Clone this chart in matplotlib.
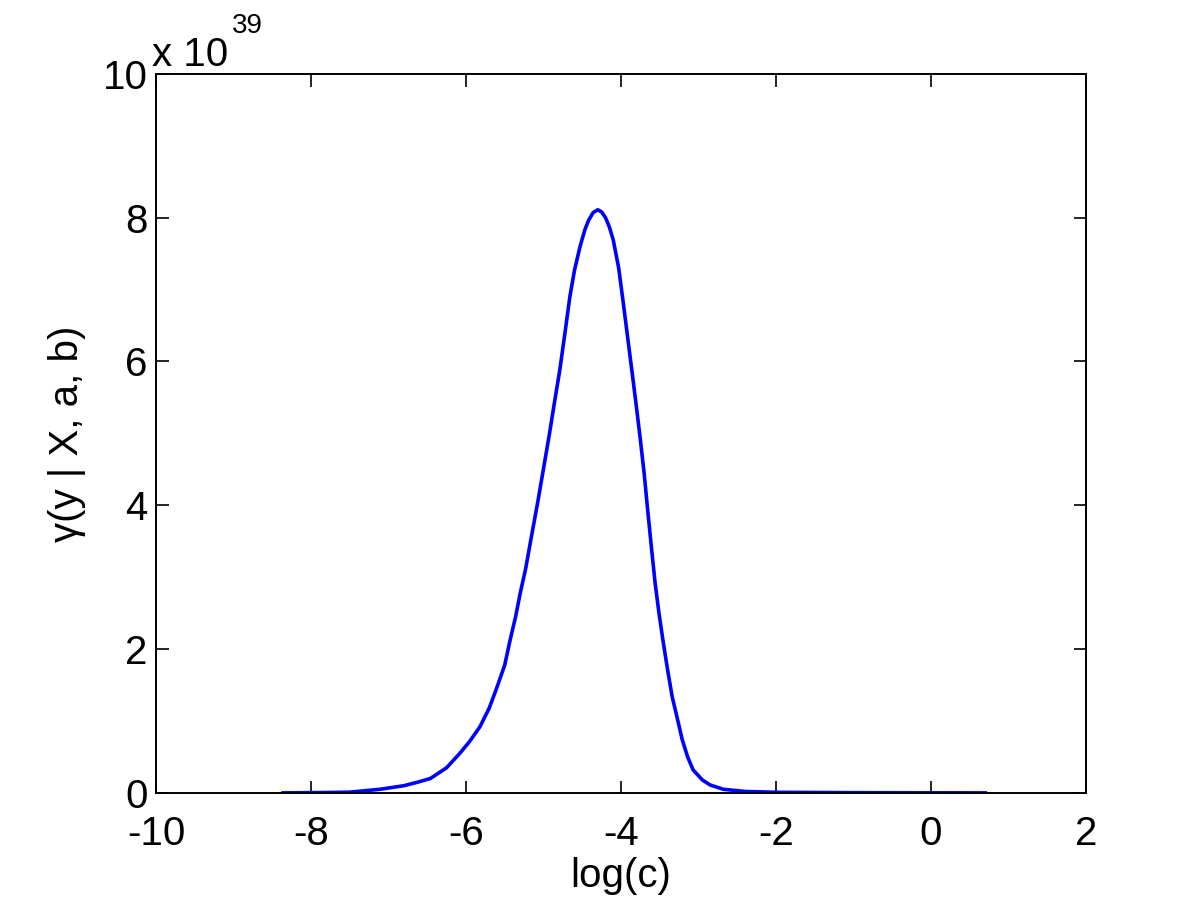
import matplotlib
matplotlib.use('Agg')
import matplotlib.pyplot as plt

# Curve (x = log(c), y in units of 1e39)
log_c = [-8.36, -7.8, -7.5, -7.11, -6.8, -6.62, -6.46, -6.25, -6.08, -5.95,
         -5.82, -5.70, -5.60, -5.50, -5.43, -5.36, -5.30, -5.23, -5.17, -5.07,
         -4.93, -4.86, -4.79, -4.72, -4.66, -4.60, -4.53, -4.47, -4.42, -4.36,
         -4.30, -4.25, -4.20, -4.15, -4.10, -4.03, -3.97, -3.91, -3.85, -3.80,
         -3.75, -3.70, -3.66, -3.61, -3.56, -3.51, -3.46, -3.40, -3.34, -3.27,
         -3.21, -3.14, -3.07, -2.95, -2.85, -2.68, -2.4, -2.0, -1.0, 0.0, 0.70]
gamma = [0.0, 0.005, 0.01, 0.05, 0.10, 0.15, 0.20, 0.35, 0.55, 0.72,
         0.92, 1.18, 1.47, 1.78, 2.13, 2.45, 2.78, 3.12, 3.48, 4.07,
         4.95, 5.42, 5.88, 6.42, 6.90, 7.27, 7.59, 7.82, 7.96, 8.07,
         8.11, 8.08, 8.00, 7.87, 7.69, 7.30, 6.81, 6.30, 5.79, 5.36,
         4.91, 4.43, 3.98, 3.44, 2.92, 2.50, 2.13, 1.72, 1.34, 1.02,
         0.74, 0.50, 0.32, 0.18, 0.11, 0.05, 0.02, 0.008, 0.003, 0.001, 0.0]

x_ticks = [-10, -8, -6, -4, -2, 0, 2]
y_ticks = [0, 2, 4, 6, 8, 10]

plt.rcParams['font.family'] = ['Liberation Sans', 'DejaVu Sans']

fig = plt.figure(figsize=(12, 9.01), dpi=100)
ax = fig.add_axes([0.13, 0.12, 0.775, 0.798])

ax.plot(log_c, gamma, color='#0000ff', linewidth=2.6)

ax.set_xlim(-10, 2)
ax.set_ylim(0, 10)
ax.set_xticks(x_ticks)
ax.set_yticks(y_ticks)
ax.set_xticklabels([str(t) for t in x_ticks])
ax.set_yticklabels([str(t) for t in y_ticks])
ax.tick_params(direction='in', length=9, width=1.2, labelsize=29,
               top=True, right=True)
ax.tick_params(axis='x', pad=16)
ax.tick_params(axis='y', pad=6)
for s in ax.spines.values():
    s.set_linewidth(1.4)

ax.set_xlabel('log(c)', fontsize=29, labelpad=3)
ax.set_ylabel('\u03b3(y | X, a, b)', fontsize=29, labelpad=12)

# MATLAB-style exponent label above the axes
ax.text(-0.004, 1.011, 'x 10', transform=ax.transAxes, fontsize=29,
        ha='left', va='baseline')
ax.text(0.082, 1.057, '39', transform=ax.transAxes, fontsize=20,
        ha='left', va='baseline')

fig.savefig('out.png', dpi=100, facecolor='white')
